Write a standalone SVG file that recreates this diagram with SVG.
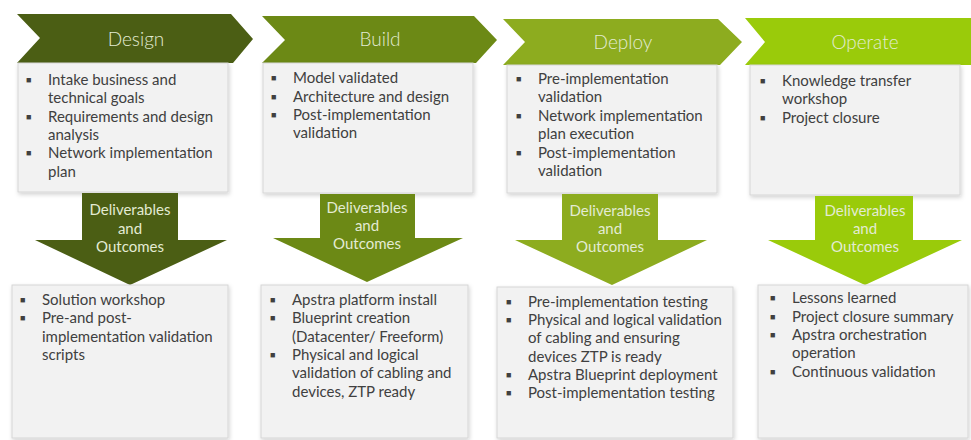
<svg xmlns="http://www.w3.org/2000/svg" width="971" height="440" viewBox="0 0 971 440">
<defs>
<filter id="sh" x="-5%" y="-5%" width="112%" height="115%">
<feDropShadow dx="1" dy="2" stdDeviation="2" flood-color="#000" flood-opacity="0.18"/>
</filter>
<style>
.box{fill:#f2f2f2;stroke:#d6d6d6;stroke-width:1;filter:url(#sh)}
.hd{font-family:Lato,"Open Sans","Liberation Sans",sans-serif;font-size:19px;font-weight:300;fill:#e3ebd3;text-anchor:middle}
.tx{font-family:Lato,"Open Sans","Liberation Sans",sans-serif;font-size:15px;fill:#404040}
.bl{font-family:"Liberation Sans",sans-serif;font-size:9px;fill:#404040}
.ar{font-family:Lato,"Open Sans","Liberation Sans",sans-serif;font-size:15px;fill:#e3ebd3;text-anchor:middle}
.c1{fill:#4b5e14}.c2{fill:#6c8915}.c3{fill:#8dac1f}.c4{fill:#9acb0a}
</style>
</defs>
<rect width="971" height="440" fill="#ffffff"/>

<g id="design">
<polygon class="c1" points="17,14 231,14 253,39 233,63 17,63 40,38"/>
<text class="hd" x="136" y="46">Design</text>
<rect class="box" x="18" y="63" width="210" height="129"/>
<g class="tx">
<text x="48" y="85">Intake business and</text>
<text x="48" y="103">technical goals</text>
<text x="48" y="122">Requirements and design</text>
<text x="48" y="140">analysis</text>
<text x="48" y="158">Network implementation</text>
<text x="48" y="177">plan</text>
</g>
<g class="bl">
<text x="26" y="83">■</text><text x="26" y="120">■</text><text x="26" y="156">■</text>
</g>
</g>

<g id="build">
<polygon class="c2" points="262,16 474,16 497,40 476,63 262,63 285,40"/>
<text class="hd" x="380" y="46">Build</text>
<rect class="box" x="263" y="63" width="210" height="130"/>
<g class="tx">
<text x="293" y="83">Model validated</text>
<text x="293" y="102">Architecture and design</text>
<text x="293" y="120">Post-implementation</text>
<text x="293" y="138">validation</text>
</g>
<g class="bl">
<text x="271" y="81">■</text><text x="271" y="100">■</text><text x="271" y="118">■</text>
</g>
</g>

<g id="deploy">
<polygon class="c3" points="503,19 718,19 742,42 720,65 503,65 525,42"/>
<text class="hd" x="623" y="49">Deploy</text>
<rect class="box" x="507" y="65" width="210" height="128"/>
<g class="tx">
<text x="538" y="84">Pre-implementation</text>
<text x="538" y="102">validation</text>
<text x="538" y="121">Network implementation</text>
<text x="538" y="139">plan execution</text>
<text x="538" y="158">Post-implementation</text>
<text x="538" y="176">validation</text>
</g>
<g class="bl">
<text x="516" y="82">■</text><text x="516" y="119">■</text><text x="516" y="156">■</text>
</g>
</g>

<g id="operate">
<polygon class="c4" points="745,18 990,18 1010,42 990,65 745,65 765,42"/>
<text class="hd" x="865" y="49">Operate</text>
<rect class="box" x="750" y="65" width="210" height="130"/>
<g class="tx">
<text x="782" y="86">Knowledge transfer</text>
<text x="782" y="104">workshop</text>
<text x="782" y="123">Project closure</text>
</g>
<g class="bl">
<text x="760" y="84">■</text><text x="760" y="121">■</text>
</g>
</g>

<g id="connectors">
<g id="arrow-design">
<polygon class="c1" points="82,193 178,193 178,240 227,240 130,285 35,240 82,240"/>
<text class="ar" x="130" y="215">Deliverables</text>
<text class="ar" x="130" y="234">and</text>
<text class="ar" x="130" y="252">Outcomes</text>
</g>
<g id="arrow-build">
<polygon class="c2" points="320,194 415,194 415,238 463,238 367,282 273,238 320,238"/>
<text class="ar" x="367" y="213">Deliverables</text>
<text class="ar" x="367" y="231">and</text>
<text class="ar" x="367" y="249">Outcomes</text>
</g>
<g id="arrow-deploy">
<polygon class="c3" points="562,194 658,194 658,240 707,240 612,285 515,240 562,240"/>
<text class="ar" x="610" y="216">Deliverables</text>
<text class="ar" x="610" y="234">and</text>
<text class="ar" x="610" y="252">Outcomes</text>
</g>
<g id="arrow-operate">
<polygon class="c4" points="815,196 913,196 913,240 962,240 865,285 768,240 815,240"/>
<text class="ar" x="865" y="216">Deliverables</text>
<text class="ar" x="865" y="234">and</text>
<text class="ar" x="865" y="252">Outcomes</text>
</g>
</g>

<g id="design-out">
<rect class="box" x="12" y="285" width="216" height="153"/>
<g class="tx">
<text x="42" y="305">Solution workshop</text>
<text x="42" y="323">Pre-and post-</text>
<text x="42" y="342">implementation validation</text>
<text x="42" y="360">scripts</text>
</g>
<g class="bl"><text x="20" y="303">■</text><text x="20" y="321">■</text></g>
</g>

<g id="build-out">
<rect class="box" x="261" y="285" width="207" height="153"/>
<g class="tx">
<text x="292" y="305">Apstra platform install</text>
<text x="292" y="323">Blueprint creation</text>
<text x="292" y="342">(Datacenter/ Freeform)</text>
<text x="292" y="360">Physical and logical</text>
<text x="292" y="378">validation of cabling and</text>
<text x="292" y="397">devices, ZTP ready</text>
</g>
<g class="bl"><text x="270" y="303">■</text><text x="270" y="321">■</text><text x="270" y="358">■</text></g>
</g>

<g id="deploy-out">
<rect class="box" x="497" y="287" width="236" height="151"/>
<g class="tx">
<text x="528" y="307">Pre-implementation testing</text>
<text x="528" y="325">Physical and logical validation</text>
<text x="528" y="343">of cabling and ensuring</text>
<text x="528" y="362">devices ZTP is ready</text>
<text x="528" y="380">Apstra Blueprint deployment</text>
<text x="528" y="398">Post-implementation testing</text>
</g>
<g class="bl"><text x="506" y="305">■</text><text x="506" y="323">■</text><text x="506" y="378">■</text><text x="506" y="396">■</text></g>
</g>

<g id="operate-out">
<rect class="box" x="758" y="285" width="210" height="153"/>
<g class="tx">
<text x="792" y="303">Lessons learned</text>
<text x="792" y="322">Project closure summary</text>
<text x="792" y="340">Apstra orchestration</text>
<text x="792" y="358">operation</text>
<text x="792" y="377">Continuous validation</text>
</g>
<g class="bl"><text x="770" y="301">■</text><text x="770" y="320">■</text><text x="770" y="338">■</text><text x="770" y="375">■</text></g>
</g>
</svg>
